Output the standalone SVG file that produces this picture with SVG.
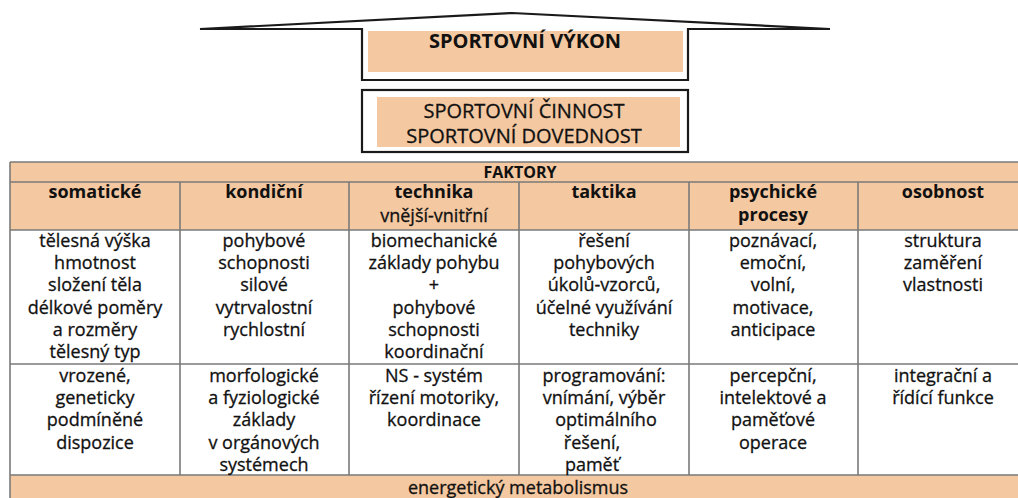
<svg xmlns="http://www.w3.org/2000/svg" width="1018" height="498" viewBox="0 0 1018 498">
  <style>
    .fill { fill: #F4C8A0; }
    .frame { fill: none; stroke: #1a1a1a; stroke-width: 2.2; }
    .grid { stroke: #7a7a7a; stroke-width: 1.6; fill: none; }
    text { font-family: "Open Sans", "Liberation Sans", sans-serif; fill: #111; text-anchor: middle; }
    .title { font-size: 20px; font-weight: bold; }
    .sub { font-size: 20px; stroke: #111; stroke-width: 0.3; }
    .top { font-size: 16px; font-weight: bold; }
    .head { font-size: 18px; font-weight: bold; }
    .cell { font-size: 18px; stroke: #111; stroke-width: 0.3; }
  </style>

  <!-- roof with the performance box -->
  <g id="vykon">
    <rect class="fill" x="368" y="31" width="315" height="41"/>
    <path class="frame" d="M200,29 L512,13 L830,29 L688,29 L688,80 L362,80 L362,29 Z"/>
    <text class="title" x="525" y="48">SPORTOVNÍ VÝKON</text>
  </g>

  <!-- activity / skill box -->
  <g id="cinnost">
    <rect class="frame" x="362" y="90" width="326" height="62"/>
    <rect class="fill" x="377" y="97" width="303" height="50"/>
    <text class="sub" x="524" y="117.5">SPORTOVNÍ ČINNOST</text>
    <text class="sub" x="524" y="143">SPORTOVNÍ DOVEDNOST</text>
  </g>

  <!-- factor table -->
  <g id="tabulka">
    <rect class="fill" x="10" y="162" width="1020" height="68"/>
    <rect class="fill" x="10" y="475" width="1020" height="23"/>
    <path class="grid" d="M10,162 H1030 M10,182 H1030 M10,230 H1030 M10,364 H1030 M10,475 H1030 M10,162 V498 M180,182 V475 M349,182 V475 M519,182 V475 M689,182 V475 M858,182 V475"/>
  </g>

  <g id="faktory">
    <text class="top" x="520" y="178">FAKTORY</text>
  </g>

  <g id="somaticke">
    <text class="head" x="95" y="198">somatické</text>
    <text class="cell" x="95" y="247">tělesná výška</text>
    <text class="cell" x="95" y="269.2">hmotnost</text>
    <text class="cell" x="95" y="291.4">složení těla</text>
    <text class="cell" x="95" y="313.6">délkové poměry</text>
    <text class="cell" x="95" y="335.8">a rozměry</text>
    <text class="cell" x="95" y="358">tělesný typ</text>
    <text class="cell" x="95" y="382">vrozené,</text>
    <text class="cell" x="95" y="404.2">geneticky</text>
    <text class="cell" x="95" y="426.4">podmíněné</text>
    <text class="cell" x="95" y="448.6">dispozice</text>
  </g>

  <g id="kondicni">
    <text class="head" x="264" y="198">kondiční</text>
    <text class="cell" x="264" y="247">pohybové</text>
    <text class="cell" x="264" y="269.2">schopnosti</text>
    <text class="cell" x="264" y="291.4">silové</text>
    <text class="cell" x="264" y="313.6">vytrvalostní</text>
    <text class="cell" x="264" y="335.8">rychlostní</text>
    <text class="cell" x="264" y="382">morfologické</text>
    <text class="cell" x="264" y="404.2">a fyziologické</text>
    <text class="cell" x="264" y="426.4">základy</text>
    <text class="cell" x="264" y="448.6">v orgánových</text>
    <text class="cell" x="264" y="470.6">systémech</text>
  </g>

  <g id="technika">
    <text class="head" x="434" y="198">technika</text>
    <text class="cell" x="434" y="222">vnější-vnitřní</text>
    <text class="cell" x="434" y="247">biomechanické</text>
    <text class="cell" x="434" y="269.2">základy pohybu</text>
    <text class="cell" x="434" y="291.4">+</text>
    <text class="cell" x="434" y="313.6">pohybové</text>
    <text class="cell" x="434" y="335.8">schopnosti</text>
    <text class="cell" x="434" y="358">koordinační</text>
    <text class="cell" x="434" y="382">NS - systém</text>
    <text class="cell" x="434" y="404.2">řízení motoriky,</text>
    <text class="cell" x="434" y="426.4">koordinace</text>
  </g>

  <g id="taktika">
    <text class="head" x="604" y="198">taktika</text>
    <text class="cell" x="604" y="247">řešení</text>
    <text class="cell" x="604" y="269.2">pohybových</text>
    <text class="cell" x="604" y="291.4">úkolů-vzorců,</text>
    <text class="cell" x="604" y="313.6">účelné využívání</text>
    <text class="cell" x="604" y="335.8">techniky</text>
    <text class="cell" x="604" y="382">programování:</text>
    <text class="cell" x="604" y="404.2">vnímání, výběr</text>
    <text class="cell" x="606" y="426.4">optimálního</text>
    <text class="cell" x="592" y="448.6">řešení,</text>
    <text class="cell" x="592" y="470.6">paměť</text>
  </g>

  <g id="psychicke">
    <text class="head" x="773" y="198">psychické</text>
    <text class="head" x="773" y="221">procesy</text>
    <text class="cell" x="773" y="247">poznávací,</text>
    <text class="cell" x="773" y="269.2">emoční,</text>
    <text class="cell" x="773" y="291.4">volní,</text>
    <text class="cell" x="773" y="313.6">motivace,</text>
    <text class="cell" x="773" y="335.8">anticipace</text>
    <text class="cell" x="773" y="382">percepční,</text>
    <text class="cell" x="773" y="404.2">intelektové a</text>
    <text class="cell" x="773" y="426.4">paměťové</text>
    <text class="cell" x="773" y="448.6">operace</text>
  </g>

  <g id="osobnost">
    <text class="head" x="943" y="198">osobnost</text>
    <text class="cell" x="943" y="247">struktura</text>
    <text class="cell" x="943" y="269.2">zaměření</text>
    <text class="cell" x="943" y="291.4">vlastnosti</text>
    <text class="cell" x="943" y="382">integrační a</text>
    <text class="cell" x="943" y="404.2">řídící funkce</text>
  </g>

  <g id="metabolismus">
    <text class="cell" x="518" y="494">energetický metabolismus</text>
  </g>

  <g id="connectors"/>
</svg>
